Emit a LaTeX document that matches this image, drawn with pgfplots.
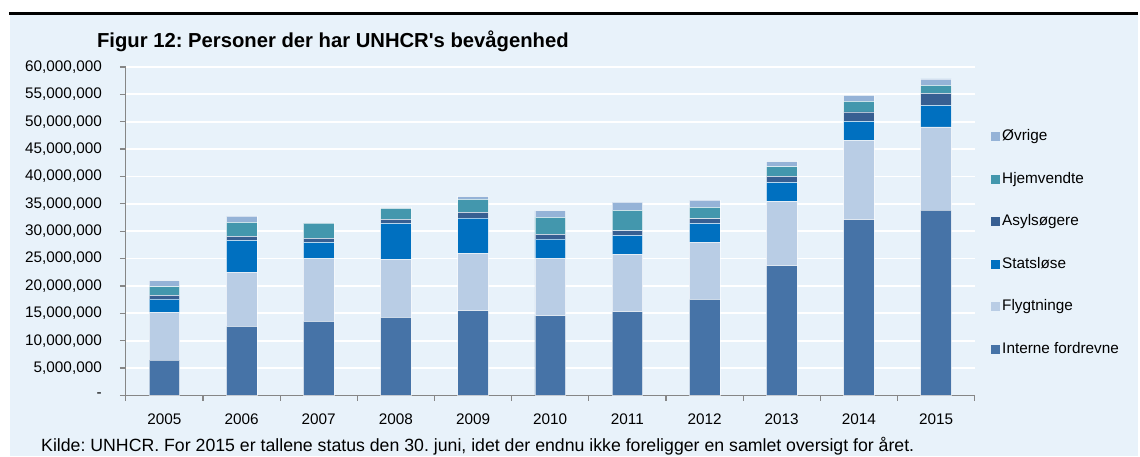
\documentclass[border=0pt]{standalone}
\usepackage{pgfplots}
\pgfplotsset{compat=1.18}
\usepackage{pgfplotstable}
\usepackage{fontspec}
\setmainfont{Liberation Sans}
\frenchspacing
\definecolor{bgc}{HTML}{E8F2FA}
\definecolor{cI}{HTML}{4673A7}
\definecolor{cF}{HTML}{B9CDE5}
\definecolor{cS}{HTML}{0070C0}
\definecolor{cA}{HTML}{375F92}
\definecolor{cH}{HTML}{4397AD}
\definecolor{cO}{HTML}{95B3D7}
\definecolor{axgray}{HTML}{868686}
% values in millions
\pgfplotstableread{
x I F S A H O
0 6.46 8.65 2.50 0.67 1.58 1.10
1 12.60 9.93 5.79 0.73 2.56 1.16
2 13.52 11.45 2.98 0.73 2.81 0.07
3 14.25 10.54 6.64 0.73 2.01 0.12
4 15.47 10.41 6.52 1.03 2.38 0.49
5 14.56 10.53 3.47 0.86 3.10 1.22
6 15.29 10.41 3.53 0.86 3.71 1.52
7 17.54 10.47 3.42 0.85 2.07 1.34
8 23.69 11.75 3.48 1.09 1.77 0.91
9 32.10 14.43 3.53 1.71 1.94 1.10
10 33.86 15.17 3.95 2.20 1.46 1.16
}\datatable
\begin{document}
\begin{tikzpicture}[x=0.75pt,y=0.75pt]
\fill[white] (0,0) rectangle (1140,457);
\fill[bgc] (10,0) rectangle (1140,442);
\draw[line width=2.4pt] (9,443.5) -- (1140,443.5);
\node[anchor=base west, font=\bfseries\fontsize{15.2}{18}\selectfont, inner sep=0pt] at (97,409.3) {Figur 12: Personer der har UNHCR\textquotesingle s bevågenhed};
\node[anchor=base west, font=\fontsize{13.3}{16}\selectfont, inner sep=0pt] at (41,4.6) {Kilde: UNHCR. For 2015 er tallene status den 30. juni, idet der endnu ikke foreligger en samlet oversigt for året.};
\begin{axis}[
  at={(94.5pt,45.75pt)}, anchor=south west,
  scale only axis, width=637.5pt, height=246.75pt,
  ybar stacked, bar width=23pt,
  xmin=-0.5, xmax=10.5, ymin=0, ymax=60,
  enlargelimits=false,
  axis x line*=bottom, axis y line*=left,
  axis line style={draw=axgray, line width=0.9pt},
  tick align=outside,
  ytick={0,5,...,60},
  yticklabels={{-\hspace{5pt}},{5,000,000},{10,000,000},{15,000,000},{20,000,000},{25,000,000},{30,000,000},{35,000,000},{40,000,000},{45,000,000},{50,000,000},{55,000,000},{60,000,000}},
  xtick={0,...,10},
  xticklabels={2005,2006,2007,2008,2009,2010,2011,2012,2013,2014,2015},
  minor xtick={-0.5,0.5,...,10.5},
  major x tick style={draw=none},
  minor x tick style={draw=axgray, line width=0.9pt},
  major y tick style={draw=axgray, line width=0.9pt},
  major tick length=4.5pt, minor tick length=4pt,
  ymajorgrids, major grid style={draw=white, line width=1.3pt},
  tick label style={font=\fontsize{11.5}{14}\selectfont},
  xticklabel style={yshift=-6pt},
  yticklabel style={xshift=-10pt},
  every axis plot/.append style={draw=white, draw opacity=0.6, line width=0.5pt},
  legend image code/.code={\fill[#1,draw=none] (-1pt,-3.4pt) rectangle (5.8pt,3.4pt);},
  reverse legend,
  legend cell align=left,
  legend style={at={(1.014,0.826)}, anchor=north west, draw=none, fill=none,
    font=\fontsize{11.5}{14}\selectfont, row sep=17.3pt,
    nodes={inner sep=1.8pt, text height=8.5pt, text depth=2.5pt}},
]
\addplot[fill=cI] table[x=x,y=I]{\datatable};
\addlegendentry{Interne fordrevne}
\addplot[fill=cF] table[x=x,y=F]{\datatable};
\addlegendentry{Flygtninge}
\addplot[fill=cS] table[x=x,y=S]{\datatable};
\addlegendentry{Statsløse}
\addplot[fill=cA] table[x=x,y=A]{\datatable};
\addlegendentry{Asylsøgere}
\addplot[fill=cH] table[x=x,y=H]{\datatable};
\addlegendentry{Hjemvendte}
\addplot[fill=cO] table[x=x,y=O]{\datatable};
\addlegendentry{Øvrige}
\end{axis}
\end{tikzpicture}
\end{document}
